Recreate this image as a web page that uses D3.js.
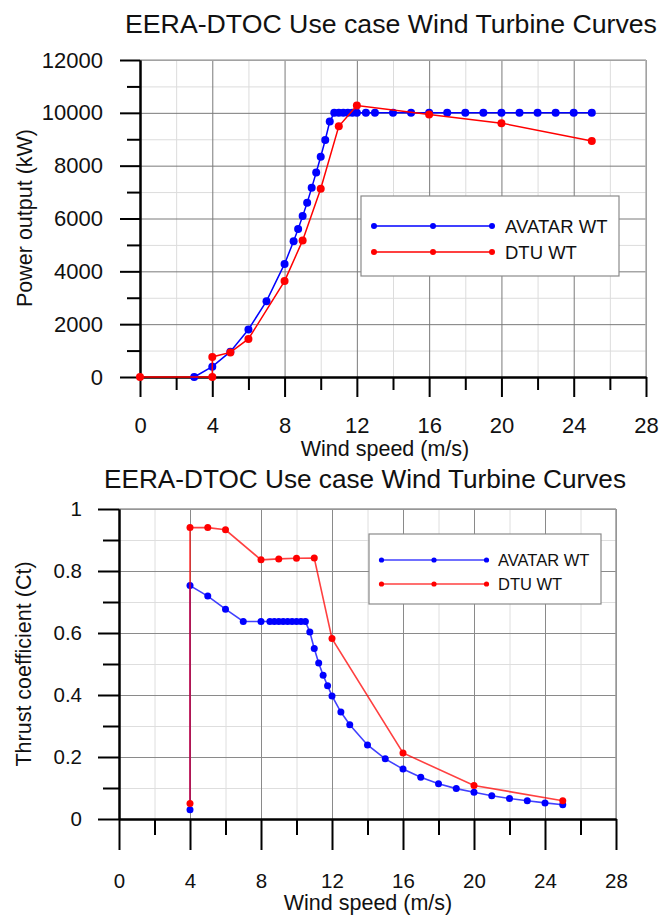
<!DOCTYPE html>
<html>
<head>
<meta charset="utf-8">
<script src="https://cdn.jsdelivr.net/npm/d3@7/dist/d3.min.js"></script>
<style>
  html, body { margin: 0; padding: 0; background: #fff; }
  svg { display: block; font-family: "Liberation Sans", Arial, sans-serif; }
</style>
</head>
<body>
<svg id="chart" width="662" height="915"></svg>
<script>
// Power curves (wind speed m/s, power kW)
const avatarPowerSpeed = [3, 4, 5, 6, 7, 8, 8.5, 8.75, 9, 9.25, 9.5, 9.75, 10, 10.25, 10.5, 10.75, 11, 11.25, 11.5, 11.75, 12, 12.5, 13, 14, 15, 16, 17, 18, 19, 20, 21, 22, 23, 24, 25];
const avatarPower = [0, 390, 960, 1800, 2870, 4280, 5140, 5600, 6090, 6600, 7160, 7740, 8340, 8970, 9670, 10000, 10000, 10000, 10000, 10000, 10000, 10000, 10000, 10000, 10000, 10000, 10000, 10000, 10000, 10000, 10000, 10000, 10000, 10000, 10000];
const dtuPowerSpeed = [0, 4, 4, 5, 6, 8, 9, 10, 11, 12, 16, 20, 25];
const dtuPower = [0, 0, 760, 930, 1440, 3630, 5170, 7130, 9490, 10280, 9940, 9610, 8930];

// Thrust coefficient curves (wind speed m/s, Ct)
const avatarCtSpeed = [4, 4, 5, 6, 7, 8, 8.5, 8.75, 9, 9.25, 9.5, 9.75, 10, 10.25, 10.5, 10.75, 11, 11.25, 11.5, 11.75, 12, 12.5, 13, 14, 15, 16, 17, 18, 19, 20, 21, 22, 23, 24, 25];
const avatarCt = [0.03, 0.753, 0.719, 0.677, 0.637, 0.637, 0.637, 0.637, 0.637, 0.637, 0.637, 0.637, 0.637, 0.637, 0.637, 0.603, 0.55, 0.503, 0.464, 0.43, 0.397, 0.345, 0.304, 0.239, 0.194, 0.161, 0.135, 0.114, 0.098, 0.086, 0.075, 0.066, 0.059, 0.052, 0.046];
const dtuCtSpeed = [4, 4, 5, 6, 8, 9, 10, 11, 12, 16, 20, 25];
const dtuCt = [0.05, 0.94, 0.94, 0.933, 0.836, 0.839, 0.841, 0.842, 0.582, 0.213, 0.108, 0.059];

const seriesNames = ["AVATAR WT", "DTU WT"];
const chartTitle = "EERA-DTOC Use case Wind Turbine Curves";
const xTitle = "Wind speed (m/s)";
const powerTitle = "Power output (kW)";
const ctTitle = "Thrust coefficient (Ct)";

const xMajorTicks = [0, 4, 8, 12, 16, 20, 24, 28];
const xMinorTicks = [2, 6, 10, 14, 18, 22, 26];
const powerMajorTicks = [0, 2000, 4000, 6000, 8000, 10000, 12000];
const powerMinorTicks = [1000, 3000, 5000, 7000, 9000, 11000];
const ctMajorTicks = [0, 0.2, 0.4, 0.6, 0.8, 1];
const ctMinorTicks = [0.1, 0.3, 0.5, 0.7, 0.9];

const blue = "#0000ff", red = "#ff0000";
const svg = d3.select("#chart");

function zip(xs, ys) { return xs.map((x, i) => [x, ys[i]]); }

function drawPanel(cfg) {
  const x = d3.scaleLinear().domain([0, 28]).range([cfg.left, cfg.right]);
  const y = d3.scaleLinear().domain(cfg.yDomain).range([cfg.bottom, cfg.top]);
  const g = svg.append("g");
  const w = cfg.right - cfg.left, h = cfg.bottom - cfg.top;

  // minor grid, then major grid
  const grid = (xt, yt, color) => {
    g.append("g").attr("transform", `translate(0,${cfg.bottom})`)
      .call(d3.axisBottom(x).tickValues(xt).tickSize(-h).tickFormat(""))
      .call(s => s.select(".domain").remove())
      .call(s => s.selectAll("line").attr("stroke", color).attr("stroke-width", 1));
    g.append("g").attr("transform", `translate(${cfg.left},0)`)
      .call(d3.axisLeft(y).tickValues(yt).tickSize(-w).tickFormat(""))
      .call(s => s.select(".domain").remove())
      .call(s => s.selectAll("line").attr("stroke", color).attr("stroke-width", 1));
  };
  grid(xMinorTicks, cfg.yMinor, cfg.minorGrid);
  grid(xMajorTicks.filter(v => v > 0), cfg.yMajor.filter(v => v > 0), cfg.majorGrid);
  // top and right frame in grid grey
  g.append("line").attr("x1", cfg.left).attr("x2", cfg.right).attr("y1", cfg.top).attr("y2", cfg.top)
    .attr("stroke", cfg.frame).attr("stroke-width", 1.5);
  g.append("line").attr("x1", cfg.right).attr("x2", cfg.right).attr("y1", cfg.top).attr("y2", cfg.bottom)
    .attr("stroke", cfg.frame).attr("stroke-width", 1.5);

  // axes
  const styleAxis = s => {
    s.select(".domain").attr("stroke", "#000").attr("stroke-width", 2);
    s.selectAll(".tick line").attr("stroke", "#000").attr("stroke-width", 2);
    s.selectAll("text").attr("fill", "#111").style("font-size", cfg.tickFont + "px")
      .style("font-family", "'Liberation Sans', Arial, sans-serif");
  };
  g.append("g").attr("transform", `translate(0,${cfg.bottom})`)
    .call(d3.axisBottom(x).tickValues(xMinorTicks).tickSize(cfg.xMinorLen).tickSizeOuter(0).tickFormat(""))
    .call(styleAxis);
  g.append("g").attr("transform", `translate(${cfg.left},0)`)
    .call(d3.axisLeft(y).tickValues(cfg.yMinor).tickSize(cfg.yMinorLen).tickSizeOuter(0).tickFormat(""))
    .call(styleAxis);
  g.append("g").attr("transform", `translate(0,${cfg.bottom})`)
    .call(d3.axisBottom(x).tickValues(xMajorTicks).tickSize(cfg.xMajorLen).tickSizeOuter(0)
      .tickPadding(cfg.xPad).tickFormat(d3.format("d")))
    .call(styleAxis);
  g.append("g").attr("transform", `translate(${cfg.left},0)`)
    .call(d3.axisLeft(y).tickValues(cfg.yMajor).tickSize(cfg.yMajorLen).tickSizeOuter(0)
      .tickPadding(cfg.yPad).tickFormat(cfg.yFormat))
    .call(styleAxis);

  // series: blue first, red on top
  const line = d3.line().x(d => x(d[0])).y(d => y(d[1]));
  cfg.series.forEach(sr => {
    g.append("path").datum(sr.data).attr("d", line).attr("fill", "none")
      .attr("stroke", sr.color).attr("stroke-width", cfg.lineWidth).attr("stroke-opacity", cfg.lineOpacity);
    g.append("g").selectAll("circle").data(sr.data).join("circle")
      .attr("cx", d => x(d[0])).attr("cy", d => y(d[1])).attr("r", cfg.dotR).attr("fill", sr.color);
  });

  // legend
  const L = cfg.legend;
  g.append("rect").attr("x", L.x).attr("y", L.y).attr("width", L.w).attr("height", L.h)
    .attr("fill", "#fff").attr("stroke", "#8a8a8a").attr("stroke-width", 1.2);
  cfg.series.forEach((sr, i) => {
    const ly = L.y + L.row0 + i * L.rowGap;
    g.append("line").attr("x1", L.x + L.lx0).attr("x2", L.x + L.lx1).attr("y1", ly).attr("y2", ly)
      .attr("stroke", sr.color).attr("stroke-width", 1.6).attr("stroke-opacity", cfg.lineOpacity);
    [L.lx0, (L.lx0 + L.lx1) / 2, L.lx1].forEach(px => {
      g.append("circle").attr("cx", L.x + px).attr("cy", ly).attr("r", L.dotR).attr("fill", sr.color);
    });
    g.append("text").attr("x", L.x + L.tx).attr("y", ly).attr("dy", "0.36em")
      .attr("fill", "#111").style("font-size", L.font + "px").text(sr.name);
  });

  // titles
  g.append("text").attr("x", cfg.titleX).attr("y", cfg.titleY).attr("text-anchor", "middle")
    .attr("fill", "#111").style("font-size", cfg.titleFont + "px").text(chartTitle);
  g.append("text").attr("x", cfg.xTitleX).attr("y", cfg.xTitleY).attr("text-anchor", "middle")
    .attr("fill", "#111").style("font-size", cfg.axisFont + "px").text(xTitle);
  g.append("text").attr("transform", `translate(${cfg.yTitleX},${cfg.yTitleY}) rotate(-90)`)
    .attr("text-anchor", "middle").attr("fill", "#111").style("font-size", cfg.axisFont + "px").text(cfg.yTitle);
}

drawPanel({
  left: 140, right: 646, top: 60, bottom: 377,
  yDomain: [0, 12000], yMajor: powerMajorTicks, yMinor: powerMinorTicks,
  yFormat: d3.format("d"),
  minorGrid: "#dcdcdc", majorGrid: "#7a7a7a", frame: "#b0b0b0",
  xMajorLen: 20, xMinorLen: 13, yMajorLen: 20, yMinorLen: 13, xPad: 20, yPad: 17,
  tickFont: 22, axisFont: 21.5, titleFont: 26.7,
  lineWidth: 1.5, lineOpacity: 1, dotR: 4,
  series: [
    { name: seriesNames[0], color: blue, data: zip(avatarPowerSpeed, avatarPower) },
    { name: seriesNames[1], color: red, data: zip(dtuPowerSpeed, dtuPower) }
  ],
  legend: { x: 361, y: 196, w: 258, h: 80, row0: 30, rowGap: 26, lx0: 13, lx1: 131, dotR: 3, tx: 144, font: 18.5 },
  titleX: 391, titleY: 33, xTitleX: 385, xTitleY: 456, yTitleX: 32, yTitleY: 218, yTitle: powerTitle
});

drawPanel({
  left: 119, right: 616, top: 509, bottom: 819,
  yDomain: [0, 1], yMajor: ctMajorTicks, yMinor: ctMinorTicks,
  yFormat: d => d3.format("~g")(d),
  minorGrid: "#dedede", majorGrid: "#8a8a8a", frame: "#9a9a9a",
  xMajorLen: 31, xMinorLen: 16, yMajorLen: 21, yMinorLen: 16, xPad: 23, yPad: 16,
  tickFont: 20.5, axisFont: 21.5, titleFont: 26.2,
  lineWidth: 1.6, lineOpacity: 0.75, dotR: 3.5,
  series: [
    { name: seriesNames[0], color: blue, data: zip(avatarCtSpeed, avatarCt) },
    { name: seriesNames[1], color: red, data: zip(dtuCtSpeed, dtuCt) }
  ],
  legend: { x: 369, y: 534, w: 232, h: 70, row0: 26, rowGap: 24, lx0: 12.5, lx1: 117.5, dotR: 2.6, tx: 129, font: 16.5 },
  titleX: 365, titleY: 488, xTitleX: 368, xTitleY: 910, yTitleX: 31, yTitleY: 664, yTitle: ctTitle
});
</script>
</body>
</html>
